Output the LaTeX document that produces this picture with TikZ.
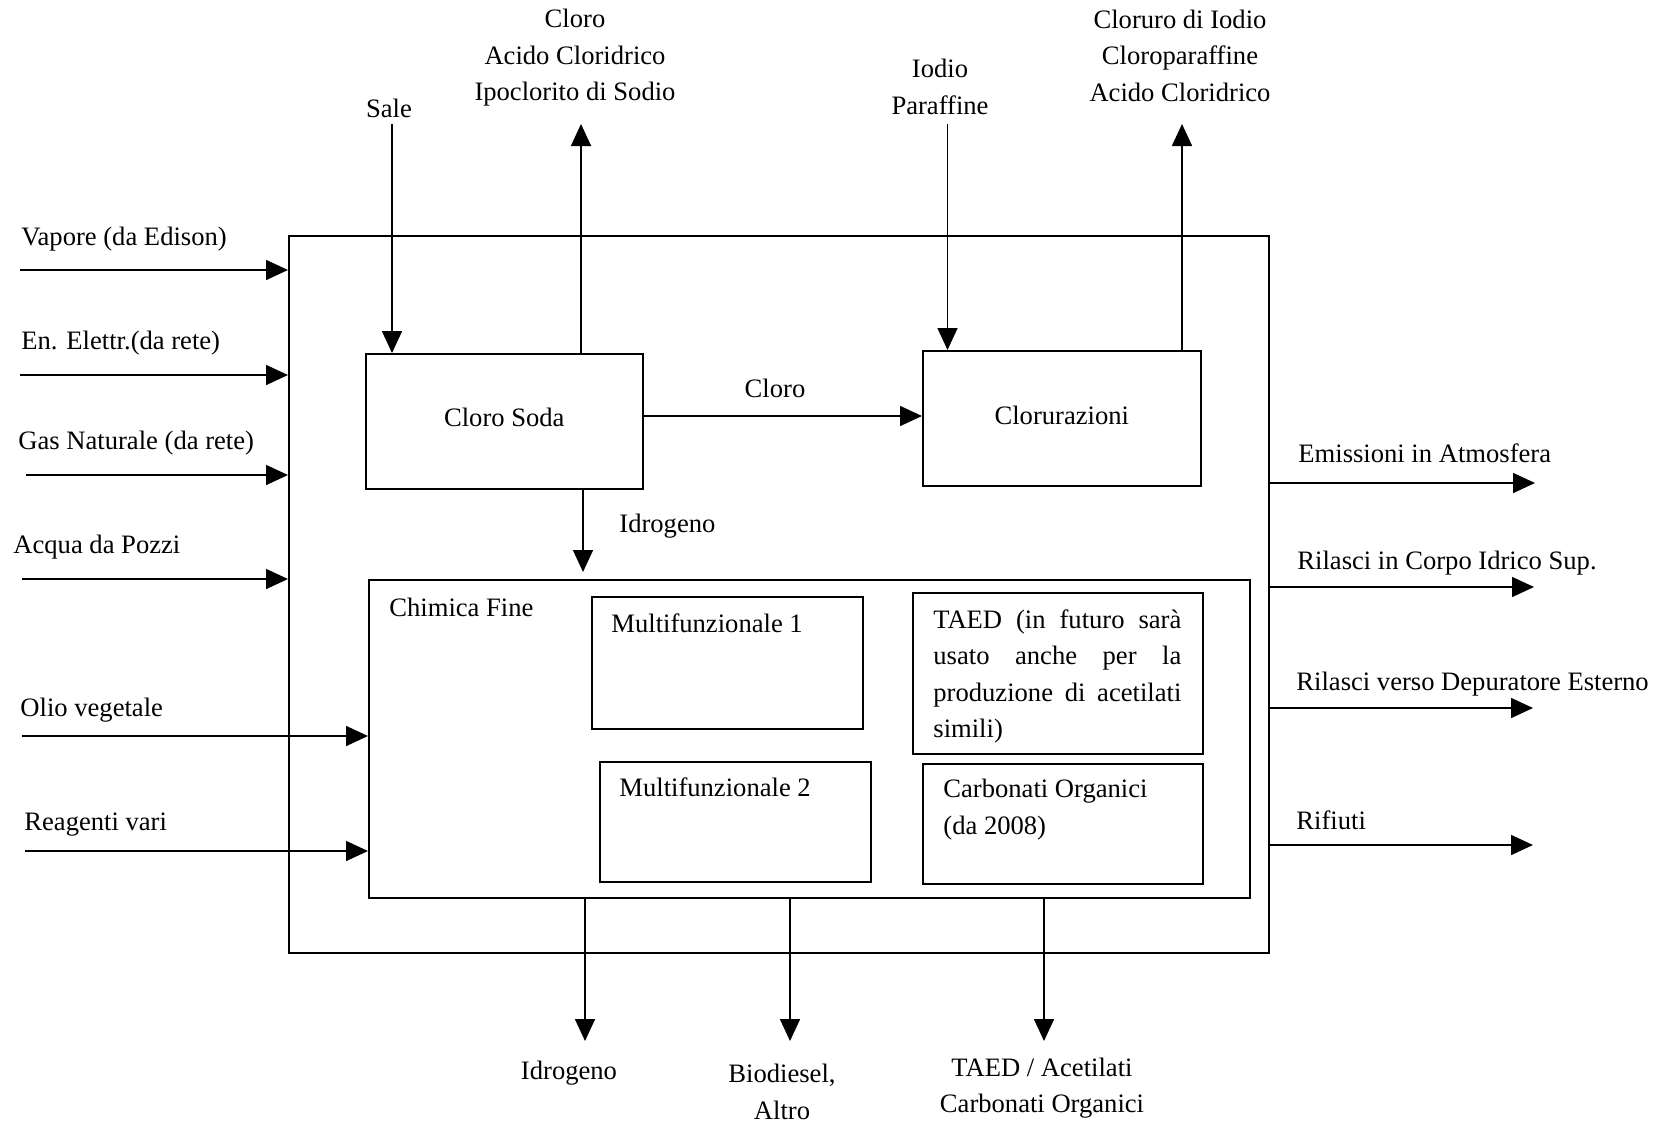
\documentclass[tikz,border=0pt]{standalone}
\usepackage{fontspec}
\setmainfont{Liberation Serif}
\usetikzlibrary{arrows.meta,positioning}

\tikzset{
  txt/.style={font=\fontsize{13.3}{18.3}\selectfont},
  box/.style={draw, txt, line width=0.8pt, inner sep=0pt, anchor=north west},
  lbl/.style={txt, inner sep=0pt},
  flow/.style={line width=0.8pt, -{Triangle[length=11pt,width=10pt]}},
}

\begin{document}
\begin{tikzpicture}[x=0.5pt,y=-0.5pt]
\useasboundingbox (0,0) rectangle (1659,1124);

% boxes
\node[box, minimum width=490pt, minimum height=358.5pt] (plant) at (288,235) {};
\node[box, minimum width=138.5pt, minimum height=67.5pt, text depth=4pt] (cs) at (365,353) {Cloro Soda};
\node[box, minimum width=139pt, minimum height=67.5pt, text depth=3pt] (clor) at (922,350) {Clorurazioni};
\node[box, minimum width=440.5pt, minimum height=159pt] (chim) at (368,579) {};
\node[box, minimum width=135.5pt, minimum height=66pt] (mf1) at (591,596) {};
\node[box, minimum width=135.5pt, minimum height=60pt] (mf2) at (599,761) {};
\node[box, minimum width=145pt, minimum height=80.5pt] (taed) at (912,592) {};
\node[box, minimum width=140pt, minimum height=60pt] (carb) at (922,763) {};

% texts in boxes
\node[lbl, anchor=west] (chimtxt) at ([shift={(21,28)}]chim.north west) {Chimica Fine};
\node[lbl, anchor=west] (mf1txt) at ([shift={(20,27)}]mf1.north west) {Multifunzionale 1};
\node[lbl, anchor=west] (mf2txt) at ([shift={(20,26)}]mf2.north west) {Multifunzionale 2};
\node[lbl, anchor=north west, text width=124pt, align=justify] (taedtxt) at ([shift={(21,17)}]taed.north west)
  {\hyphenpenalty=10000 TAED (in futuro sarà usato anche per la produzione di acetilati simili)};
\node[lbl, anchor=north west, align=left] (carbtxt) at ([shift={(21,16)}]carb.north west)
  {Carbonati Organici\\(da 2008)};

% inputs from the left
\coordinate (vap) at (20,270);
\coordinate (ele) at (20,375);
\coordinate (gas) at (26,475);
\coordinate (acq) at (22,579);
\coordinate (oli) at (22,736);
\coordinate (rea) at (25,851);
\node[lbl, anchor=west] (vaptxt) at (21,239) {Vapore (da Edison)};
\node[lbl, anchor=west] (eletxt) at (21,343) {En. Elettr.(da rete)};
\node[lbl, anchor=west] (gastxt) at (18,443) {Gas Naturale (da rete)};
\node[lbl, anchor=west] (acqtxt) at (13,547) {Acqua da Pozzi};
\node[lbl, anchor=west] (olitxt) at (20,710) {Olio vegetale};
\node[lbl, anchor=west] (reatxt) at (24,825) {Reagenti vari};
\foreach \c in {vap,ele,gas,acq}
  \draw[flow] (\c) -- (\c -| plant.west);
\foreach \c in {oli,rea}
  \draw[flow] (\c) -- (\c -| chim.west);

% outputs to the right
\coordinate (emi) at (1535,483);
\coordinate (ril) at (1534,587);
\coordinate (dep) at (1533,708);
\coordinate (rif) at (1533,845);
\node[lbl, anchor=west] (emitxt) at (1298,453) {Emissioni in Atmosfera};
\node[lbl, anchor=west] (riltxt) at (1297,563) {Rilasci in Corpo Idrico Sup.};
\node[lbl, anchor=west] (deptxt) at (1296,684) {Rilasci verso Depuratore Esterno};
\node[lbl, anchor=west] (riftxt) at (1296,820) {Rifiuti};
\foreach \c in {emi,ril,dep,rif}
  \draw[flow] (\c -| plant.east) -- (\c);

% top
\coordinate (sale) at (392,124);
\coordinate (clout) at (581,124);
\coordinate (iod) at (947.5,124);
\coordinate (clorout) at (1182,124);
\node[lbl] (saletxt) at (389,108) {Sale};
\node[lbl, align=center] (clouttxt) at (575,58) {Cloro\\Acido Cloridrico\\Ipoclorito di Sodio};
\node[lbl, align=center] (iodtxt) at (940,87) {Iodio\\Paraffine};
\node[lbl, align=center] (clorouttxt) at (1180,55.5) {Cloruro di Iodio\\Cloroparaffine\\Acido Cloridrico};
\draw[flow] (sale) -- (sale |- cs.north);
\draw[flow] (clout |- cs.north) -- (clout);
\draw[flow] (iod) -- (iod |- clor.north);
\draw[flow] (clorout |- clor.north) -- (clorout);

% inner flows
\coordinate (cl) at (0,416);
\coordinate (h2) at (583,0);
\draw[flow] (cl -| cs.east) -- (cl -| clor.west);
\node[lbl] (cltxt) at (775,388) {Cloro};
\draw[flow, shorten >=3.5pt] (h2 |- cs.south) -- (h2 |- chim.north);
\node[lbl, anchor=west] (h2txt) at (619,526) {Idrogeno};

% bottom
\coordinate (idr) at (585,1041);
\coordinate (bio) at (790,1041);
\coordinate (tae) at (1044,1041);
\foreach \c in {idr,bio,tae}
  \draw[flow] (\c |- chim.south) -- (\c);
\node[lbl] (idrtxt) at (569,1073) {Idrogeno};
\node[lbl, align=center] (biotxt) at (782,1092) {Biodiesel,\\Altro};
\node[lbl, align=center] (taetxt) at (1042,1088) {TAED / Acetilati\\Carbonati Organici};
\end{tikzpicture}
\end{document}
